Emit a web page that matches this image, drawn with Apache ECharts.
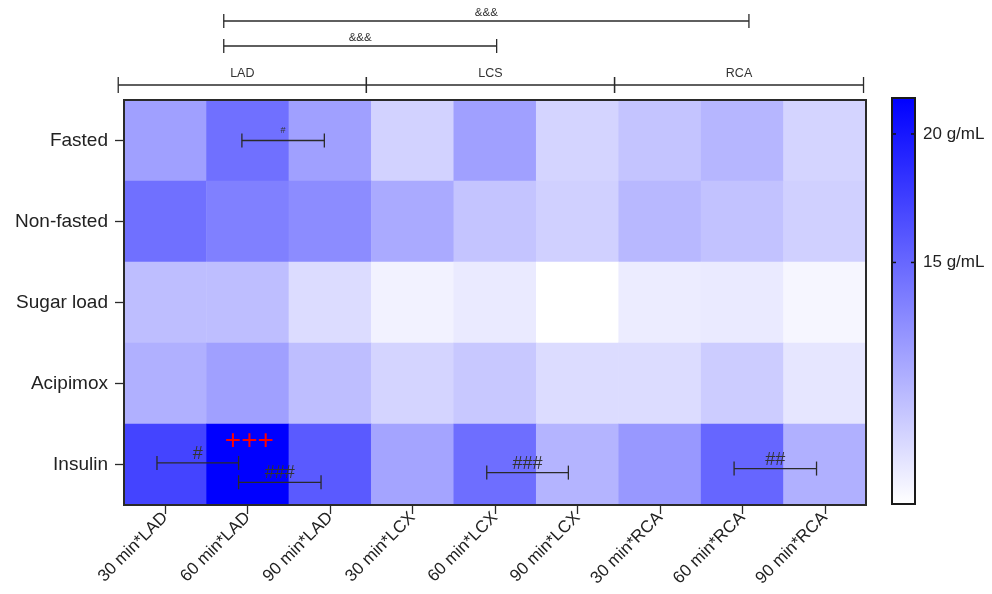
<!DOCTYPE html>
<html>
<head>
<meta charset="utf-8">
<script src="https://cdn.jsdelivr.net/npm/echarts@6/dist/echarts.min.js"></script>
<style>html,body{margin:0;padding:0;background:#fff;}#c{width:992px;height:594px;}</style>
</head>
<body>
<div id="c"></div>
<script>
// ---- data ----
const rows = ['Fasted', 'Non-fasted', 'Sugar load', 'Acipimox', 'Insulin'];
const cols = ['30 min*LAD', '60 min*LAD', '90 min*LAD', '30 min*LCX', '60 min*LCX', '90 min*LCX', '30 min*RCA', '60 min*RCA', '90 min*RCA'];
const fasted    = [11.49, 14.46, 11.49, 8.39, 11.49, 8.26, 9.26, 10.12, 8.26];
const nonFasted = [14.46, 13.47, 12.73, 10.87, 9.26, 8.51, 10.00, 9.38, 8.51];
const sugarLoad = [9.63, 9.63, 7.77, 6.41, 6.90, 5.60, 6.78, 6.90, 6.16];
const acipimox  = [10.50, 11.49, 9.63, 8.26, 9.01, 7.77, 7.77, 8.76, 7.15];
const insulin   = [17.19, 21.40, 15.82, 11.24, 14.58, 10.25, 11.98, 15.08, 10.50];
const colorMin = 5.6, colorMax = 21.4;
const colorbarTicks = [15, 20];
// group brackets above plot: [label, fromIndex, toIndex]
const groupBrackets = [['LAD', -0.57, 2.44], ['LCS', 2.44, 5.45], ['RCA', 5.45, 8.47]];
// comparison brackets above plot: [label, fromIndex, toIndex, level]
const topBrackets = [['&&&', 0.71, 7.08, 0], ['&&&', 0.71, 4.02, 1]];
// in-cell brackets: [label, fromIndex, toIndex, rowPos, fontSize]
const cellBrackets = [
  ['#', 0.93, 1.93, 0.0, 9],
  ['#', -0.10, 0.89, 3.98, 18],
  ['###', 0.89, 1.89, 4.22, 18],
  ['###', 3.90, 4.89, 4.10, 18],
  ['##', 6.90, 7.90, 4.05, 18]
];
// red marks: [label, colPos, rowPos]
const redMarks = [['+++', 1.02, 3.71]];

const rowArrays = [fasted, nonFasted, sugarLoad, acipimox, insulin];
const heatData = [];
rowArrays.forEach((arr, r) => arr.forEach((v, c) => heatData.push([c, r, v])));

const FONT = '"Liberation Sans", Arial, Helvetica, sans-serif';
const INK = '#2a2a2a';

function geo(api) {
  const o = api.coord([0, 0]);
  const s = api.size([1, 1]);
  return {
    x: u => o[0] + u * s[0],
    y: v => o[1] + v * s[1],
    top: o[1] - s[1] / 2,
    w: s[0], h: s[1]
  };
}
function bracket(x1, x2, y, tk, label, fs, labelGap, color) {
  const st = { stroke: color || INK, lineWidth: 1.3 };
  return [
    { type: 'line', shape: { x1: x1, y1: y, x2: x2, y2: y }, style: st },
    { type: 'line', shape: { x1: x1, y1: y - tk, x2: x1, y2: y + tk }, style: st },
    { type: 'line', shape: { x1: x2, y1: y - tk, x2: x2, y2: y + tk }, style: st },
    { type: 'text', style: { text: label, x: (x1 + x2) / 2, y: y - labelGap, align: 'center', verticalAlign: 'bottom', fontSize: fs, fontFamily: FONT, fill: '#333' } }
  ];
}

const chart = echarts.init(document.getElementById('c'), null, { renderer: 'canvas' });
const option = {
  animation: false,
  backgroundColor: '#ffffff',
  grid: [
    { left: 124, right: 126, top: 100, bottom: 89 },
    { left: 892, top: 98, width: 23, height: 406 }
  ],
  xAxis: [
    {
      type: 'category', data: cols, gridIndex: 0, position: 'bottom',
      axisLine: { show: true, lineStyle: { color: INK, width: 2 } },
      axisTick: { show: true, alignWithLabel: true, length: 9, lineStyle: { color: INK, width: 1.3 } },
      axisLabel: { rotate: 45, fontSize: 17, fontFamily: FONT, color: '#222', margin: 10, interval: 0 },
      splitLine: { show: false }
    },
    { type: 'value', gridIndex: 1, min: 0, max: 1, show: false }
  ],
  yAxis: [
    {
      type: 'category', data: rows, gridIndex: 0, inverse: true,
      axisLine: { show: true, lineStyle: { color: INK, width: 2 } },
      axisTick: { show: true, alignWithLabel: true, length: 9, lineStyle: { color: INK, width: 1.3 } },
      axisLabel: { fontSize: 19, fontFamily: FONT, color: '#222', margin: 16 },
      splitLine: { show: false }
    },
    {
      type: 'value', gridIndex: 1, min: colorMin, max: colorMax, position: 'right',
      axisLine: { show: false },
      axisTick: { show: false },
      axisLabel: { show: true, customValues: colorbarTicks, formatter: '{value} g/mL', fontSize: 17, fontFamily: FONT, color: '#222', margin: 8 },
      splitLine: { show: false }
    }
  ],
  visualMap: {
    show: false, type: 'continuous', seriesIndex: 0, dimension: 2,
    min: colorMin, max: colorMax,
    inRange: { color: ['#ffffff', '#0000ff'] }
  },
  series: [
    {
      type: 'heatmap', xAxisIndex: 0, yAxisIndex: 0, data: heatData,
      itemStyle: { borderWidth: 0 },
      emphasis: { disabled: true }
    },
    {
      // frame, brackets and annotations tied to the heatmap axes
      type: 'custom', xAxisIndex: 0, yAxisIndex: 0, z: 5, silent: true,
      data: [[0, 0]],
      renderItem: function (params, api) {
        const g = geo(api);
        const children = [];
        children.push({ type: 'rect', shape: { x: g.x(-0.5), y: g.y(-0.5), width: g.w * cols.length, height: g.h * rows.length },
          style: { fill: 'none', stroke: INK, lineWidth: 2 } });
        groupBrackets.forEach(b => {
          bracket(g.x(b[1]), g.x(b[2]), g.top - 15, 8, b[0], 12.5, 5).forEach(e => children.push(e));
        });
        topBrackets.forEach(b => {
          const y = b[3] === 0 ? g.top - 79 : g.top - 54;
          bracket(g.x(b[1]), g.x(b[2]), y, 7, b[0], 11.5, 2).forEach(e => children.push(e));
        });
        cellBrackets.forEach(b => {
          bracket(g.x(b[1]), g.x(b[2]), g.y(b[3]), 7, b[0], b[4], b[4] > 12 ? 0 : 5).forEach(e => children.push(e));
        });
        redMarks.forEach(m => {
          children.push({ type: 'text', style: { text: m[0], x: g.x(m[1]), y: g.y(m[2]), align: 'center', verticalAlign: 'middle',
            fontSize: 28, fontFamily: FONT, fill: '#ff0000' } });
        });
        return { type: 'group', children: children };
      }
    },
    {
      // colour bar with its ticks
      type: 'custom', xAxisIndex: 1, yAxisIndex: 1, z: 3, silent: true,
      data: [[0, colorMin, 1, colorMax]],
      renderItem: function (params, api) {
        const p1 = api.coord([api.value(0), api.value(3)]);
        const p2 = api.coord([api.value(2), api.value(1)]);
        const shape = { x: p1[0], y: p1[1], width: p2[0] - p1[0], height: p2[1] - p1[1] };
        const children = [
          { type: 'rect', shape: shape, style: { fill: new echarts.graphic.LinearGradient(0, 0, 0, 1, [
            { offset: 0, color: '#0000ff' }, { offset: 1, color: '#ffffff' }]) } }
        ];
        colorbarTicks.forEach(t => {
          const y = api.coord([0, t])[1];
          const st = { stroke: '#111', lineWidth: 1.5 };
          children.push({ type: 'line', shape: { x1: p1[0], y1: y, x2: p1[0] + 4, y2: y }, style: st });
          children.push({ type: 'line', shape: { x1: p2[0] - 4, y1: y, x2: p2[0], y2: y }, style: st });
        });
        children.push({ type: 'rect', shape: shape, style: { fill: 'none', stroke: '#1a1a1a', lineWidth: 2 } });
        return { type: 'group', children: children };
      }
    }
  ]
};
chart.setOption(option);
</script>
</body>
</html>
